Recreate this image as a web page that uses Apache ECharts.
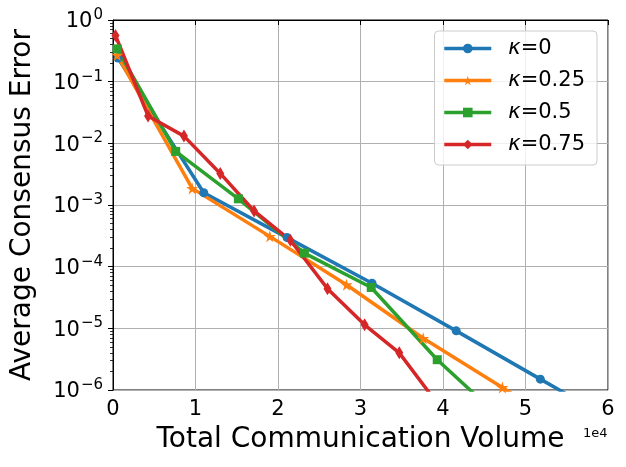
<!DOCTYPE html>
<html>
<head>
<meta charset="utf-8">
<script src="https://cdn.jsdelivr.net/npm/echarts@6/dist/echarts.min.js"></script>
<style>
html,body{margin:0;padding:0;background:#fff;}
#chart{width:626px;height:467px;}
</style>
</head>
<body>
<div id="chart"></div>
<script>
// Data (x = total communication volume, y = average consensus error)
const seriesNames = ['κ=0', 'κ=0.25', 'κ=0.5', 'κ=0.75'];
const kappa0 = [[600, 0.241], [11000, 1.58e-3], [21100, 2.96e-4], [31400, 5.4e-5], [41600, 9.1e-6], [51800, 1.5e-6], [62000, 2.5e-7]];
const kappa025 = [[500, 0.27], [9600, 1.86e-3], [19000, 3.1e-4], [28300, 5.1e-5], [37600, 6.9e-6], [47200, 1.1e-6], [56500, 1.7e-7]];
const kappa05 = [[500, 0.34], [7600, 7.4e-3], [15200, 1.26e-3], [23200, 1.66e-4], [31300, 4.6e-5], [39300, 3.1e-6], [47300, 3.2e-7]];
const kappa075 = [[300, 0.56], [4250, 2.78e-2], [8600, 1.31e-2], [13000, 3.25e-3], [17100, 8.0e-4], [21500, 2.68e-4], [26000, 4.4e-5], [30500, 1.14e-5], [34700, 4.0e-6], [39100, 6.6e-7]];
const xTicks = [0, 1, 2, 3, 4, 5, 6]; // ×1e4
const yDecades = [-6, -5, -4, -3, -2, -1, 0];

const colors = ['#1f77b4', '#ff7f0e', '#2ca02c', '#d62728'];
const starPath = 'path://M50,0 L61,35 L98,35 L68,57 L79,91 L50,70 L21,91 L32,57 L2,35 L39,35 Z';
const symbols = ['circle', starPath, 'rect', 'diamond'];
const symbolSizes = [9, 12, 9, [8, 13]];
const allData = [kappa0, kappa025, kappa05, kappa075];

// minor log tick positions (log10 space) for decoration axis
const minorTicks = [];
for (let i = 0; i < yDecades.length - 1; i++) {
  for (let k = 2; k <= 9; k++) minorTicks.push(yDecades[i] + Math.log10(k));
}

const FONT = 'DejaVu Sans';
const chart = echarts.init(document.getElementById('chart'), null, {renderer: 'canvas'});
chart.setOption({
  animation: false,
  backgroundColor: '#fff',
  textStyle: {fontFamily: FONT},
  grid: {left: 113, right: 18, top: 20, bottom: 77, show: true, borderColor: '#000', borderWidth: 1, containLabel: false},
  legend: {
    orient: 'vertical', right: 29, top: 31,
    backgroundColor: 'rgba(255,255,255,0.8)', borderColor: '#cccccc', borderWidth: 1, borderRadius: 4,
    padding: [7, 12, 10, 8], itemGap: 11, itemWidth: 47, itemHeight: 12,
    lineStyle: {width: 3.5},
    data: seriesNames,
    formatter: function (name) { return '{k|κ}{t|' + name.slice(1) + '}'; },
    textStyle: {
      fontFamily: FONT, fontSize: 21, color: '#000', padding: [0, 0, 0, 12],
      rich: {
        k: {fontFamily: FONT, fontSize: 21, fontStyle: 'italic', color: '#000', lineHeight: 24},
        t: {fontFamily: FONT, fontSize: 21, color: '#000', lineHeight: 24}
      }
    }
  },
  graphic: [{
    type: 'text', left: 583, top: 427,
    style: {text: '1e4', fontFamily: FONT, fontSize: 13, fill: '#000'}
  }],
  xAxis: {
    type: 'value', min: 0, max: 60000, interval: 10000,
    name: 'Total Communication Volume', nameLocation: 'middle', nameGap: 36,
    nameTextStyle: {fontFamily: FONT, fontSize: 28, color: '#000'},
    axisLine: {show: true, lineStyle: {color: '#000', width: 1}},
    axisTick: {show: true, length: 5, lineStyle: {color: '#000', width: 1}},
    axisLabel: {fontFamily: FONT, fontSize: 21, color: '#000', margin: 9,
      formatter: function (v) { return String(v / 10000); }},
    splitLine: {show: true, lineStyle: {color: '#b0b0b0', width: 1}}
  },
  yAxis: [{
    type: 'log', logBase: 10, min: 1e-6, max: 1, splitNumber: 6,
    name: 'Average Consensus Error', nameLocation: 'middle', nameGap: 76,
    nameTextStyle: {fontFamily: FONT, fontSize: 28, color: '#000'},
    axisLine: {show: true, lineStyle: {color: '#000', width: 1}},
    axisTick: {show: true, length: 5, lineStyle: {color: '#000', width: 1}},
    axisLabel: {
      margin: 10, color: '#000',
      formatter: function (v) {
        const e = Math.round(Math.log10(v));
        return '{b|10}{s|' + (e < 0 ? '\u2212' + (-e) : String(e)) + '}';
      },
      rich: {
        b: {fontFamily: FONT, fontSize: 21, color: '#000', verticalAlign: 'bottom'},
        s: {fontFamily: FONT, fontSize: 15, color: '#000', verticalAlign: 'top', padding: [0, 0, 10, 1]}
      }
    },
    splitLine: {show: true, lineStyle: {color: '#b0b0b0', width: 1}}
  }, {
    type: 'value', min: yDecades[0], max: yDecades[yDecades.length - 1], position: 'left', offset: 0,
    axisLine: {show: false},
    axisLabel: {show: false},
    splitLine: {show: false},
    axisTick: {show: true, length: 3, customValues: minorTicks, lineStyle: {color: '#000', width: 0.8}}
  }],
  series: allData.map(function (d, i) {
    return {
      name: seriesNames[i], type: 'line', data: d, xAxisIndex: 0, yAxisIndex: 0,
      symbol: symbols[i], symbolSize: symbolSizes[i], showSymbol: true, clip: true,
      lineStyle: {color: colors[i], width: 3.5},
      itemStyle: {color: colors[i], borderWidth: 0},
      emphasis: {disabled: true}
    };
  })
});
</script>
</body>
</html>
